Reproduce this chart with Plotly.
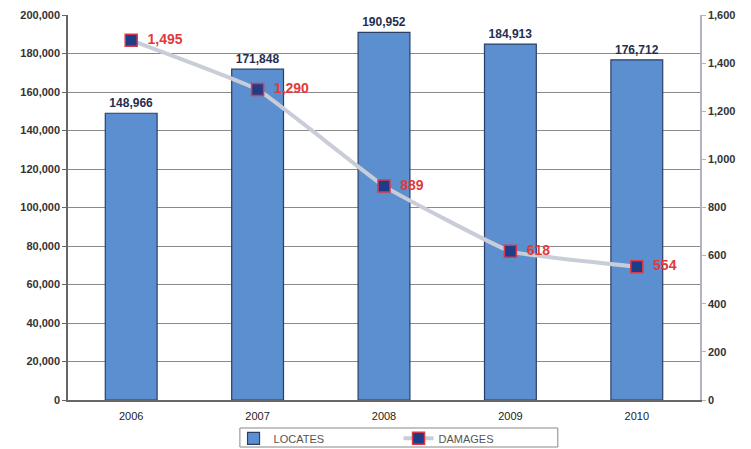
import plotly.graph_objects as go

years = ["2006", "2007", "2008", "2009", "2010"]
locates = [148966, 171848, 190952, 184913, 176712]
damages = [1495, 1290, 889, 618, 554]

fig = go.Figure()
fig.add_trace(go.Bar(
    x=years, y=locates, name="LOCATES",
    marker=dict(color="#5b8fd0", line=dict(color="#2a3f66", width=1.2)),
    width=0.41,
    text=[f"{v:,}" for v in locates], textposition="outside",
    textfont=dict(family="Liberation Sans", size=12, color="#1f2f4f", weight="bold"),
    cliponaxis=False,
))
fig.add_trace(go.Scatter(
    x=years, y=damages, name="DAMAGES", yaxis="y2",
    mode="lines+markers+text",
    line=dict(color="#c9cdd8", width=4, shape="spline", smoothing=0.3),
    marker=dict(symbol="square", size=12, color="#1f3c88", line=dict(color="#d83a4a", width=1.5)),
    text=[f"  {v:,}" for v in damages], textposition="middle right",
    textfont=dict(family="Liberation Sans", size=14, color="#e23a3a", weight="bold"),
    cliponaxis=False,
))

fig.update_layout(
    width=751, height=449,
    margin=dict(l=68, r=51, t=15, b=49, autoexpand=False),
    paper_bgcolor="white", plot_bgcolor="white",
    font=dict(family="Liberation Sans", size=11, color="#333333"),
    xaxis=dict(showline=True, linecolor="#666666", linewidth=1.5, ticks="",
               ticklabelstandoff=5,
               tickfont=dict(size=11, color="#222222")),
    yaxis=dict(range=[0, 200000], dtick=20000, tickformat=",", showgrid=True,
               gridcolor="#8a8a8a", gridwidth=1, showline=True, linecolor="#666666",
               linewidth=1.5, ticks="outside", ticklen=4, tickcolor="#666666",
               tickfont=dict(size=11, color="#333333", weight="bold"), zeroline=False),
    yaxis2=dict(range=[0, 1600], dtick=200, tickformat=",", overlaying="y", side="right",
                showgrid=False, showline=True, linecolor="#b0b4c0", linewidth=1.5,
                ticks="outside", ticklen=4, tickcolor="#b0b4c0",
                tickfont=dict(size=11, color="#333333", weight="bold"), zeroline=False),
    legend=dict(orientation="h", x=0.523, xanchor="center", y=-0.062, yanchor="top",
                borderwidth=0, bgcolor="rgba(0,0,0,0)",
                font=dict(size=11, color="#555555"), entrywidth=120, entrywidthmode="pixels",
                tracegroupgap=0),
    shapes=[dict(type="rect", xref="paper", yref="paper",
                 x0=0.272, x1=0.775, y0=-0.1221, y1=-0.0727,
                 line=dict(color="#888888", width=1), fillcolor="rgba(0,0,0,0)")],
    showlegend=True,
)

fig.write_html("out.html", post_script="document.body.style.margin='0';",
               config={"displayModeBar": False})
